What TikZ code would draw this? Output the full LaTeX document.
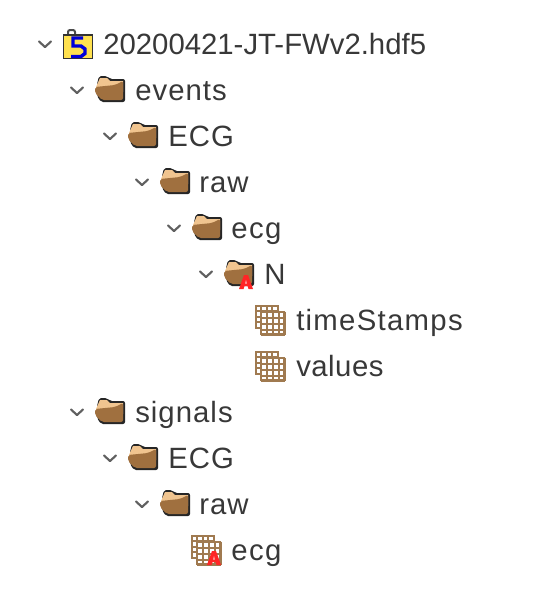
\documentclass[tikz,border=0pt]{standalone}
\usepackage{fontspec}
\setmainfont{Liberation Sans}
\definecolor{foldertan}{HTML}{F0C48F}
\definecolor{folderbrown}{HTML}{A0703F}
\definecolor{gridbrown}{HTML}{A07A50}
\definecolor{hdfyellow}{HTML}{FFE14F}
\definecolor{chevgray}{HTML}{606060}
\definecolor{labelgray}{HTML}{383838}
\tikzset{
  treelabel/.style={anchor=base west, inner sep=0pt, text=labelgray, font=\fontsize{22pt}{24pt}\selectfont\addfontfeature{LetterSpace=#1}},
  treelabel/.default=3.5,
  chevron/.pic={\draw[chevgray, line width=1.6pt, line cap=round, line join=round] (-6,-2.5) -- (0,3) -- (6,-2.5);},
  folder/.pic={
    \fill[black!85, rounded corners=1.5pt] (-11,-14) -- (-3,-14) -- (0,-11) -- (15,-11) -- (15,12) -- (-9,12) -- (-13,6) -- (-13,-6) -- cycle;
    \fill[foldertan] (-14,-3) -- (-10,-12) -- (-3,-12) -- (0,-9) -- (13,-9) -- (13,2) -- (-14,2) -- cycle;
    \fill[folderbrown, rounded corners=1.5pt] (-15,-3) -- (5,-5) -- (13,-9) -- (13,10) -- (-8,10) -- (-15,3) -- cycle;
  },
  alertmark/.pic={
    \fill[red!85!white] (-7,7) -- (-2,-7) -- (2,-7) -- (7,7) -- (2.5,7) -- (1.5,4) -- (-1.5,4) -- (-2.5,7) -- cycle;
    \fill[white!70!red] (-.9,1.5) -- (0,-2) -- (.9,1.5) -- cycle;
  },
  dataset/.pic={
    \foreach \x in {-14.5,-9,-3.5,2,7.5} \draw[gridbrown, line width=1.5pt] (\x,-15) -- (\x,8);
    \foreach \y in {-14.5,-9,-3.5,2,7.5} \draw[gridbrown, line width=1.5pt] (-15,\y) -- (8,\y);
    \fill[white] (-9,-8) rectangle (15,15);
    \foreach \x in {-9,-3,3,9,14.5} \draw[gridbrown, line width=1.6pt] (\x,-8.5) -- (\x,15);
    \foreach \y in {-8,-2,4,10,14.5} \draw[gridbrown, line width=1.6pt] (-9.5,\y) -- (15,\y);
  },
  hdffile/.pic={
    \draw[black!70, line width=1.5pt, rounded corners=1.5pt] (-10,-9) -- (-10,-14) -- (-3,-14) -- (-3,-9);
    \fill[hdfyellow] (-14.5,-9) rectangle (14.5,14.5);
    \draw[black!80, line width=1.1pt] (-14.5,-9) rectangle (14.5,14.5);
    \draw[blue!85!black, line width=2.6pt, miter limit=4] (5,-6) -- (-5,-6) -- (-5,2) -- (3,2) -- (7,5) -- (7,9.5) -- (3,12.5) -- (-7,12.5);
  },
}
\begin{document}
\begin{tikzpicture}[x=0.75pt, y=-0.75pt]
  \useasboundingbox (0,0) rectangle (536,596);
  % expander marks
  \foreach \x/\y in {45/44,77/90,110/136,142/182,174/228,206/274,77/412,110/458,142/504}
    \pic at (\x,\y) {chevron};
  % file and groups
  \pic at (78,44) {hdffile};
  \foreach \x/\y in {110/90,143/136,175/182,207/228,239/274,110/412,143/458,175/504}
    \pic at (\x,\y) {folder};
  \pic at (246,282) {alertmark};
  % datasets
  \pic at (270,320) {dataset};
  \pic at (270,366) {dataset};
  \pic at (206,550) {dataset};
  \pic at (214,558) {alertmark};
  % labels
  \node[treelabel=0] (root) at (103,54) {20200421-JT-FWv2.hdf5};
  \node[treelabel] (events) at (135,100) {events};
  \node[treelabel] (eventsecg) at (168,146) {ECG};
  \node[treelabel] (eventsraw) at (199,192) {raw};
  \node[treelabel=5] (eventsrawecg) at (231,238) {ecg};
  \node[treelabel=0] (n) at (264,284) {N};
  \node[treelabel=4.4] (timestamps) at (296,330) {timeStamps};
  \node[treelabel=1.7] (values) at (296,376) {values};
  \node[treelabel] (signals) at (135,422) {signals};
  \node[treelabel] (signalsecg) at (168,468) {ECG};
  \node[treelabel] (signalsraw) at (199,514) {raw};
  \node[treelabel=5] (signalsrawecg) at (231,560) {ecg};
\end{tikzpicture}
\end{document}
